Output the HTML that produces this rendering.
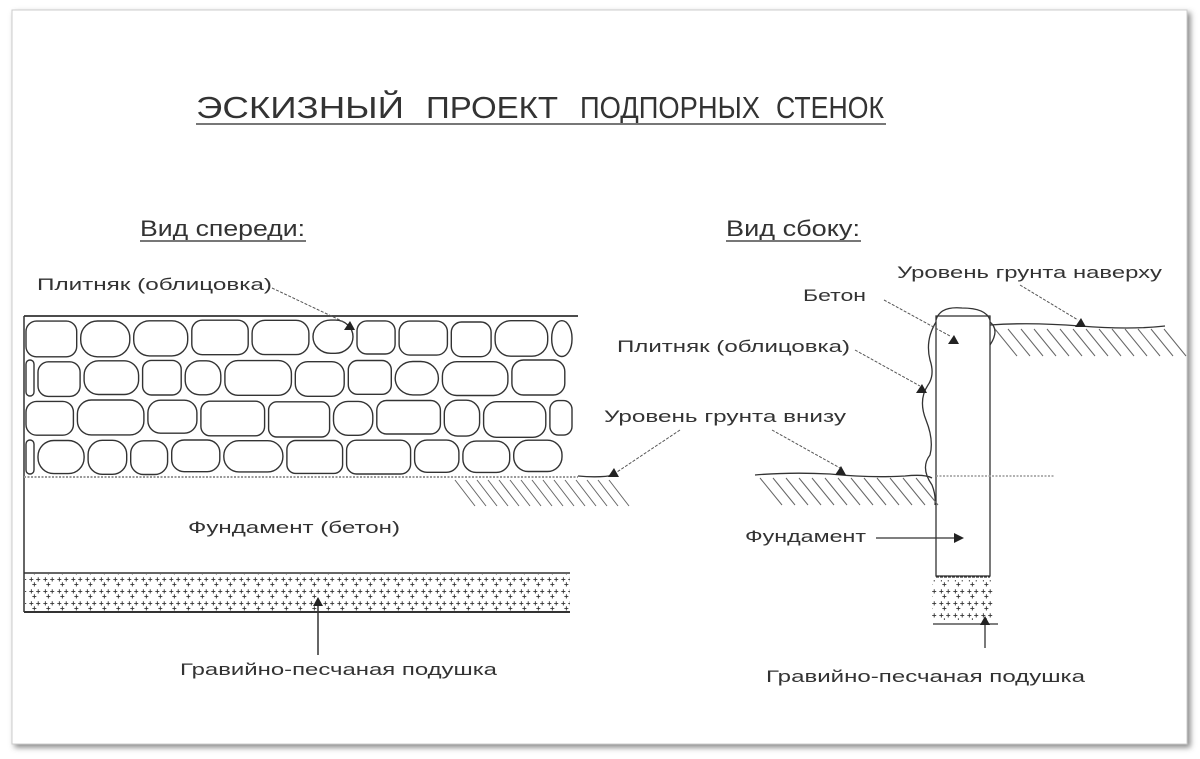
<!DOCTYPE html>
<html><head><meta charset="utf-8"><style>
html,body{margin:0;padding:0;background:#fff;width:1200px;height:759px;overflow:hidden}
svg{display:block}
text{font-family:"Liberation Sans","DejaVu Sans",sans-serif;fill:#333}
</style></head><body>
<svg id="s" width="1200" height="759" viewBox="0 0 1200 759" xmlns="http://www.w3.org/2000/svg">
<defs>
<filter id="sh" x="-5%" y="-5%" width="110%" height="110%"><feDropShadow dx="3" dy="3" stdDeviation="3" flood-color="#555" flood-opacity="0.7"/></filter>
<pattern id="dots" width="14" height="12" patternUnits="userSpaceOnUse">
<text x="1" y="6" font-size="8" font-weight="bold" style="fill:#333">+ +</text><text x="4" y="11" font-size="8" font-weight="bold" style="fill:#333">+</text>
</pattern>
</defs>
<rect x="12" y="10" width="1175" height="734" fill="#fff" stroke="#ccc" filter="url(#sh)"/>
<g fill="none" stroke="#333" stroke-width="1.3">
<!-- title -->
<g stroke="none" font-size="31" style="fill:#444">
<text x="196" y="118" textLength="208" lengthAdjust="spacingAndGlyphs">ЭСКИЗНЫЙ</text>
<text x="426" y="118" textLength="132" lengthAdjust="spacingAndGlyphs">ПРОЕКТ</text>
<text x="580" y="118" textLength="180" lengthAdjust="spacingAndGlyphs">ПОДПОРНЫХ</text>
<text x="776" y="118" textLength="108" lengthAdjust="spacingAndGlyphs">СТЕНОК</text>
</g>
<line x1="196" y1="124" x2="886" y2="124" stroke="#777" stroke-width="2"/>
<text x="140" y="236" font-size="22" textLength="165" lengthAdjust="spacingAndGlyphs" stroke="none">Вид спереди:</text>
<line x1="140" y1="241" x2="306" y2="241" stroke="#777" stroke-width="2"/>
<text x="726" y="236" font-size="22" textLength="134" lengthAdjust="spacingAndGlyphs" stroke="none">Вид сбоку:</text>
<line x1="726" y1="241" x2="861" y2="241" stroke="#777" stroke-width="2"/>

<g stroke="none" font-size="17">
<text x="37" y="290" textLength="235" lengthAdjust="spacingAndGlyphs">Плитняк (облицовка)</text>
<text x="897" y="278" textLength="265" lengthAdjust="spacingAndGlyphs">Уровень грунта наверху</text>
<text x="803" y="301" textLength="63" lengthAdjust="spacingAndGlyphs">Бетон</text>
<text x="617" y="352" textLength="233" lengthAdjust="spacingAndGlyphs">Плитняк (облицовка)</text>
<text x="604" y="422" textLength="242" lengthAdjust="spacingAndGlyphs">Уровень грунта внизу</text>
<text x="188" y="533" textLength="212" lengthAdjust="spacingAndGlyphs">Фундамент (бетон)</text>
<text x="745" y="542" textLength="121" lengthAdjust="spacingAndGlyphs">Фундамент</text>
<text x="180" y="675" textLength="317" lengthAdjust="spacingAndGlyphs">Гравийно-песчаная подушка</text>
<text x="766" y="682" textLength="319" lengthAdjust="spacingAndGlyphs">Гравийно-песчаная подушка</text>
</g>

<!-- front view -->
<line x1="24" y1="316" x2="578" y2="316" stroke-width="1.8"/>
<line x1="24" y1="316" x2="24" y2="612" stroke-width="1.5"/>
<line x1="24" y1="477" x2="578" y2="477" stroke="#999" stroke-dasharray="2 1.5" stroke-width="2"/>
<g id="stones" stroke-width="1.4"></g>
<rect x="25" y="574" width="545" height="38" fill="url(#dots)" stroke="none"/>
<line x1="24" y1="573" x2="570" y2="573" stroke-width="1.5"/>
<line x1="24" y1="612" x2="570" y2="612" stroke-width="2"/>
<line x1="318" y1="606" x2="318" y2="655" stroke-width="1.5"/>
<path d="M578 476 Q600 478 615 475" />
<g id="hf" stroke="#666" stroke-width="1"></g>

<!-- side view -->
<rect x="936" y="316" width="54" height="260"/>
<line x1="936" y1="577" x2="990" y2="577" stroke-dasharray="3 1"/>
<path d="M936 320 Q940 306 962 308 Q986 308 990 320"/>
<path d="M936 322 Q925 340 930 360 Q935 375 928 385 Q918 400 926 420 Q934 440 930 455 Q920 468 932 485 Q936 495 935 505"/>
<path d="M990 322 Q1000 330 990 345"/>
<line x1="936" y1="476" x2="1055" y2="476" stroke="#999" stroke-dasharray="2 1.5" stroke-width="1.5"/>
<path d="M755 475 Q790 472 830 474 Q870 478 905 476 Q925 474 932 478"/>
<path d="M990 325 Q1030 322 1080 326 Q1130 330 1165 326"/>
<g id="hs" stroke="#666" stroke-width="1"></g>
<rect x="932" y="580" width="62" height="40" fill="url(#dots)" stroke="none"/>
<line x1="933" y1="624" x2="998" y2="624"/>
<line x1="985" y1="624" x2="985" y2="648"/>

<!-- leaders -->
<g stroke="#555" stroke-width="1" stroke-dasharray="3 1.5">
<line x1="272" y1="288" x2="344" y2="322"/>
<line x1="680" y1="430" x2="617" y2="472"/>
<line x1="1020" y1="285" x2="1078" y2="320"/>
<line x1="884" y1="300" x2="950" y2="336"/>
<line x1="855" y1="350" x2="920" y2="386"/>
<line x1="772" y1="430" x2="840" y2="468"/>
</g>
<line x1="876" y1="538" x2="955" y2="538" stroke-width="1.3"/>
<g fill="#222" stroke="none">
<path d="M344 330 l6 -9 l5 9z"/>
<path d="M608 477 l6 -9 l5 9z"/>
<path d="M1075 327 l6 -9 l5 9z"/>
<path d="M948 344 l6 -9 l5 9z"/>
<path d="M916 393 l6 -9 l5 9z"/>
<path d="M835 475 l6 -9 l5 9z"/>
<path d="M954 533 l10 5 l-10 5z"/>
<path d="M313 606 l5 -9 l5 9z"/>
<path d="M980 625 l5 -9 l5 9z"/>
</g>
</g>
</svg>
<script>
var NS="http://www.w3.org/2000/svg";
function el(g,tag,a){var e=document.createElementNS(NS,tag);for(var k in a)e.setAttribute(k,a[k]);document.getElementById(g).appendChild(e);}
var seed=7;function r(){seed=(seed*9301+49297)%233280;return seed/233280;}
var rows=[[318,358],[358,398],[398,438],[438,476]];
rows.forEach(function(rw,i){var x=26+(i%2)*12;if(i%2){el("stones","rect",{x:26,y:rw[0]+2,width:8,height:rw[1]-rw[0]-4,rx:4});}
while(x<572){var w=38+r()*34;if(x+w>576)w=576-x;if(w<10)break;var h=rw[1]-rw[0]-4;
el("stones","rect",{x:x.toFixed(1),y:(rw[0]+2+r()*2).toFixed(1),width:(w-4).toFixed(1),height:(h-r()*3).toFixed(1),rx:(8+r()*10).toFixed(1)});x+=w;}});
for(var x=455;x<620;x+=11)el("hf","line",{x1:x,y1:480,x2:x+20,y2:506});
for(var x=760;x<925;x+=13)el("hs","line",{x1:x,y1:478,x2:x+22,y2:505});
for(var x=995;x<1165;x+=13)el("hs","line",{x1:x,y1:329,x2:x+22,y2:356});
</script>
</body></html>
